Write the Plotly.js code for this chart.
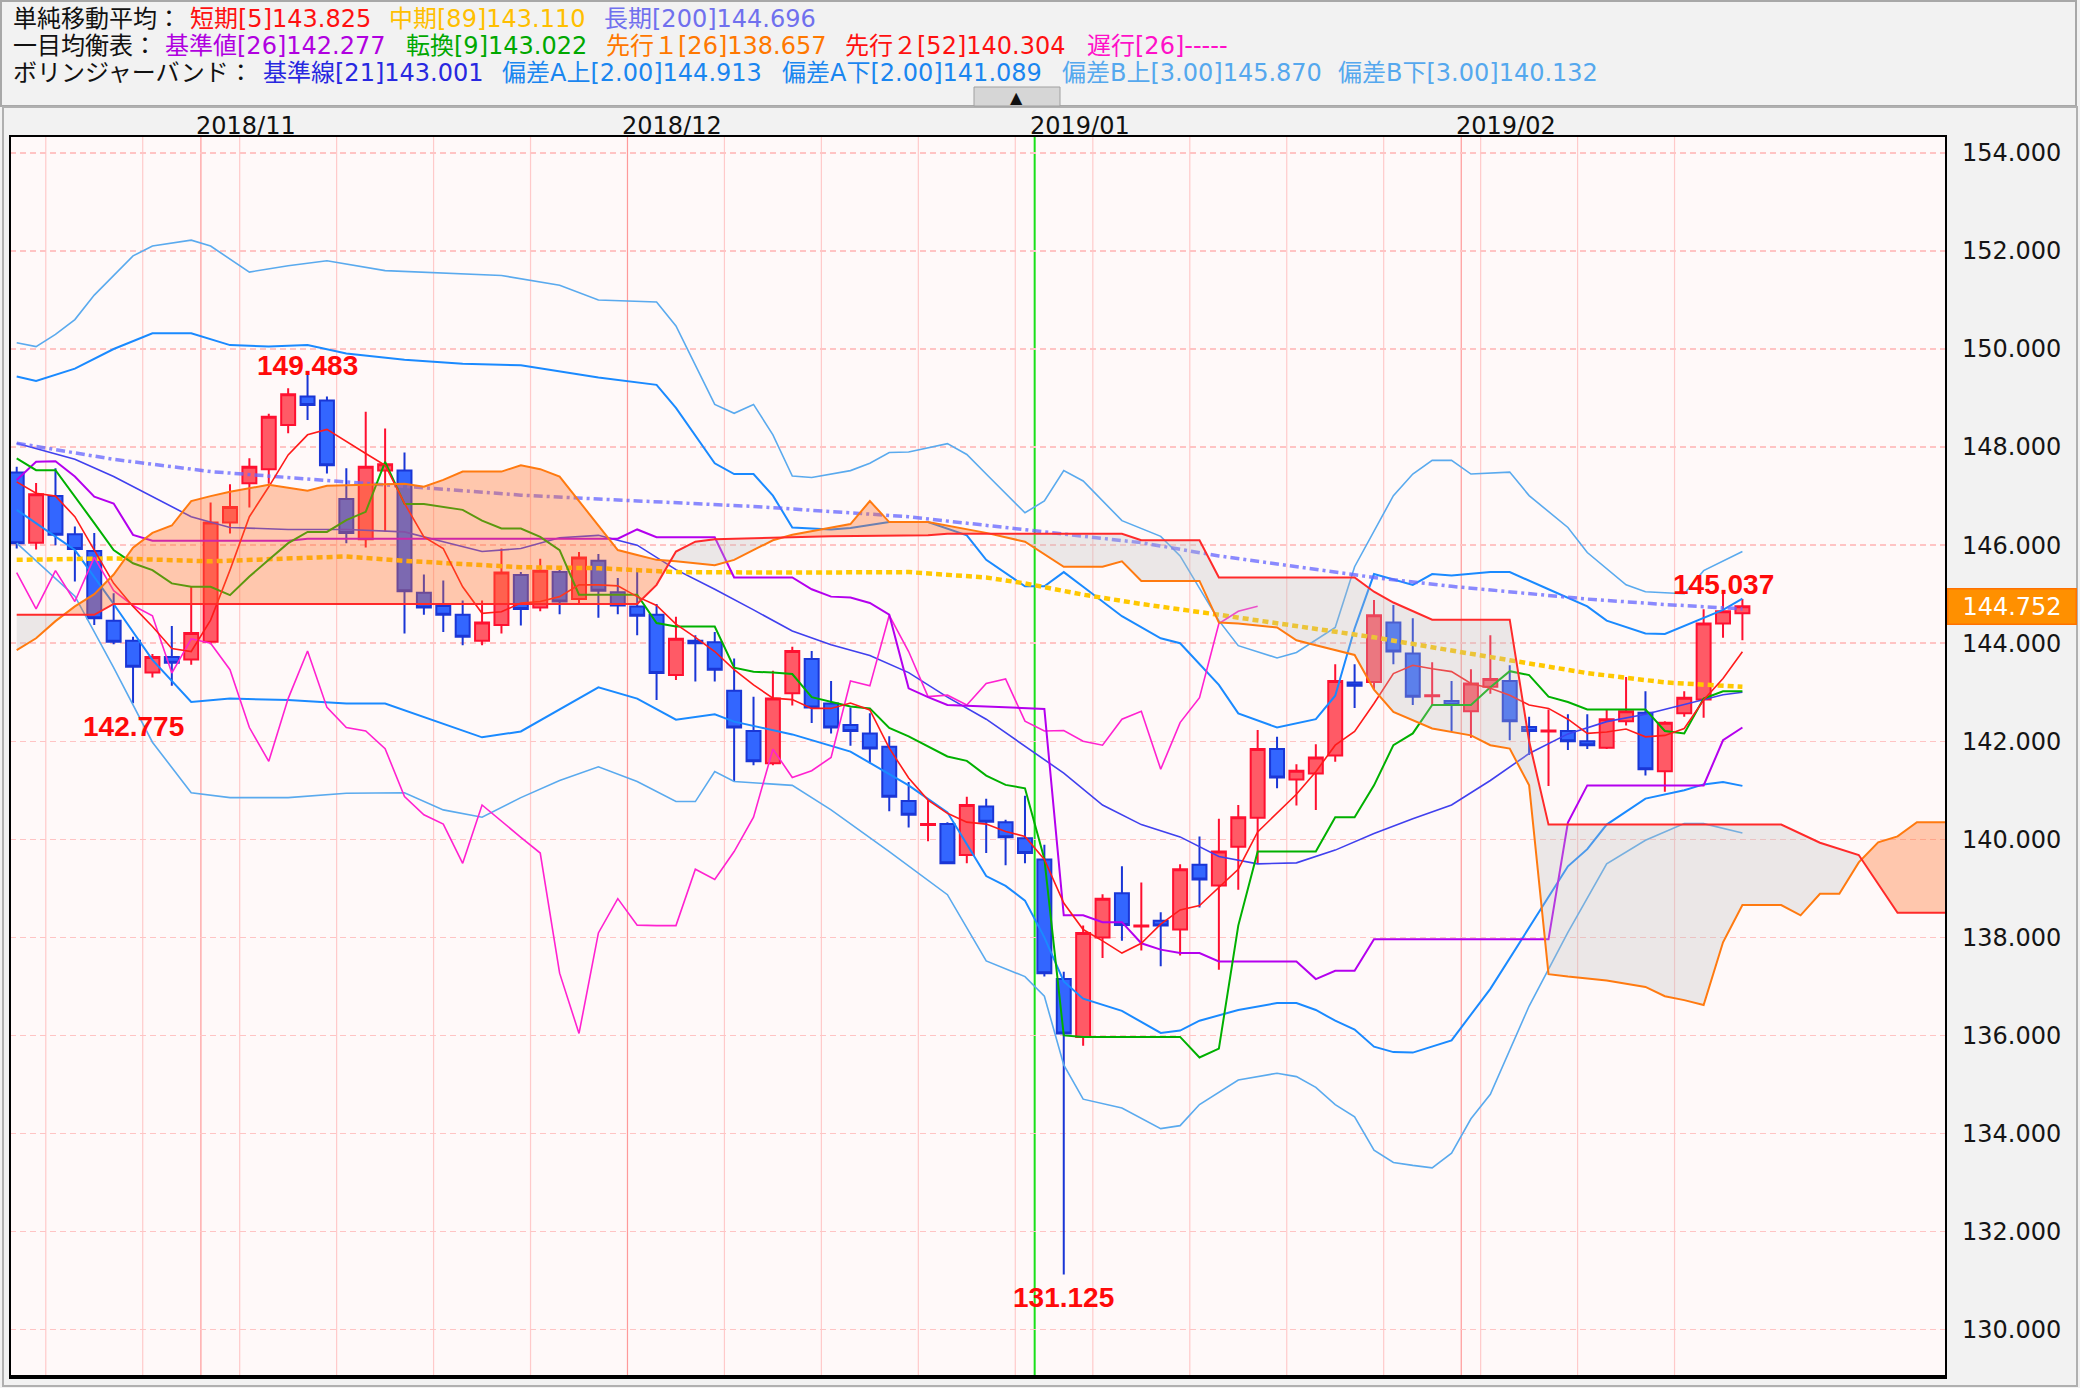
<!DOCTYPE html>
<html><head><meta charset="utf-8">
<script src="https://cdn.plot.ly/plotly-3.0.1.min.js"></script>
<style>html,body{margin:0;padding:0;background:#f2f2f2;overflow:hidden}#chart{width:2080px;height:1388px}</style>
</head><body><div id="chart"></div>
<script>
// ---------------- DATA ----------------
const dates = ['2018-10-18','2018-10-19','2018-10-22','2018-10-23','2018-10-24','2018-10-25','2018-10-26','2018-10-29','2018-10-30','2018-10-31',
'2018-11-01','2018-11-02','2018-11-05','2018-11-06','2018-11-07','2018-11-08','2018-11-09','2018-11-12','2018-11-13','2018-11-14',
'2018-11-15','2018-11-16','2018-11-19','2018-11-20','2018-11-21','2018-11-22','2018-11-23','2018-11-26','2018-11-27','2018-11-28',
'2018-11-29','2018-11-30','2018-12-03','2018-12-04','2018-12-05','2018-12-06','2018-12-07','2018-12-10','2018-12-11','2018-12-12',
'2018-12-13','2018-12-14','2018-12-17','2018-12-18','2018-12-19','2018-12-20','2018-12-21','2018-12-24','2018-12-25','2018-12-26',
'2018-12-27','2018-12-28','2018-12-31','2019-01-02','2019-01-03','2019-01-04','2019-01-07','2019-01-08','2019-01-09','2019-01-10',
'2019-01-11','2019-01-14','2019-01-15','2019-01-16','2019-01-17','2019-01-18','2019-01-21','2019-01-22','2019-01-23','2019-01-24',
'2019-01-25','2019-01-28','2019-01-29','2019-01-30','2019-01-31','2019-02-01','2019-02-04','2019-02-05','2019-02-06','2019-02-07',
'2019-02-08','2019-02-11','2019-02-12','2019-02-13','2019-02-14','2019-02-15','2019-02-18','2019-02-19','2019-02-20','2019-02-21'];

const open = [147.48,146.05,147.00,146.22,145.88,144.46,144.05,143.40,143.72,143.67,
144.03,146.46,147.26,147.55,148.45,149.03,148.95,146.94,146.12,147.52,
147.52,145.03,144.76,144.58,144.05,144.37,145.39,144.73,145.45,144.90,
145.68,145.04,144.75,144.58,143.35,144.05,144.02,143.03,142.21,141.55,
142.98,143.68,142.77,142.33,142.16,141.89,140.78,140.29,140.31,139.68,
140.67,140.35,140.02,139.59,137.15,135.97,138.00,138.90,138.22,138.34,
138.16,139.48,139.06,139.85,140.44,141.84,141.22,141.34,141.71,143.20,
143.21,144.42,143.79,142.92,142.82,142.61,143.11,143.23,142.29,142.20,
142.21,142.00,141.87,142.41,142.58,141.39,142.57,142.85,144.40,144.61];
const high = [147.60,147.27,147.57,146.38,146.25,145.02,144.13,143.78,144.35,145.15,
146.87,147.24,147.77,148.68,149.20,149.483,149.03,147.57,148.72,148.38,
147.89,145.40,145.28,144.87,144.87,145.93,145.45,145.72,145.55,145.86,
145.82,145.33,145.53,144.80,144.54,144.16,144.23,143.69,142.91,143.44,
143.93,143.84,143.23,142.69,142.57,142.10,141.17,140.83,140.35,140.87,
140.83,140.40,140.89,139.89,137.30,138.24,138.88,139.45,139.12,138.51,
139.49,140.06,140.42,140.70,142.23,142.09,141.53,141.94,143.57,143.57,
144.88,144.78,144.51,143.61,143.23,143.47,144.16,143.55,142.50,142.65,
142.55,142.55,142.64,143.31,143.02,142.41,143.02,144.69,145.037,144.90];
const low = [145.93,145.91,146.00,145.26,144.37,143.98,142.775,143.30,143.13,143.56,
143.98,146.24,146.77,147.25,148.28,148.55,147.46,146.04,145.95,146.28,
144.20,144.58,144.23,143.96,143.96,144.20,144.36,144.65,144.59,144.82,
144.52,144.59,144.16,142.84,143.25,143.22,143.22,141.18,141.51,141.51,
142.73,142.37,142.16,141.91,141.55,140.57,140.24,139.96,139.49,139.51,
139.72,139.47,139.51,137.20,131.125,135.79,137.58,137.93,137.73,137.41,
137.63,138.61,137.34,138.97,139.51,141.04,140.69,140.60,141.58,142.68,
143.06,143.57,142.74,142.74,142.21,142.07,142.97,142.02,141.72,141.09,
141.82,141.84,141.84,142.32,141.30,140.97,142.50,142.48,144.11,144.06];
const close = [146.04,147.04,146.21,145.92,144.51,144.03,143.52,143.72,143.60,144.21,
146.46,146.78,147.60,148.62,149.08,148.86,147.63,146.25,147.60,147.65,
145.06,144.73,144.58,144.13,144.42,145.44,144.70,145.48,144.85,145.75,
145.07,144.77,144.56,143.39,144.09,144.00,143.46,142.28,141.59,142.87,
143.84,142.69,142.28,142.21,141.85,140.87,140.50,140.31,139.51,140.70,
140.36,140.04,139.72,137.27,136.04,138.09,138.79,138.25,138.24,138.24,
139.39,139.18,139.75,140.45,141.84,141.26,141.40,141.67,143.23,143.13,
144.57,143.83,142.91,142.94,142.74,143.18,143.27,142.41,142.21,142.22,
142.00,141.92,142.45,142.61,141.43,142.38,142.89,144.40,144.65,144.752];

// 短期 SMA5 (one value per bar)
const sma5 = [147.29,147.06,147.00,146.58,145.90,145.22,144.75,144.34,143.89,143.83,
144.47,145.49,146.58,147.19,147.84,148.25,148.36,148.11,147.87,147.63,
146.85,146.17,145.93,145.15,144.61,144.64,144.82,144.85,144.95,145.19,
145.19,145.17,144.95,144.77,144.39,144.12,143.83,143.46,143.15,142.88,
142.85,142.67,142.67,142.78,142.64,141.86,141.25,140.80,140.53,140.35,
140.31,140.16,140.06,139.59,138.70,138.16,137.93,137.68,137.88,138.27,
138.56,138.65,139.01,139.39,140.15,140.53,140.92,141.38,141.92,142.20,
142.77,143.38,143.55,143.48,143.42,143.18,143.08,142.94,142.74,142.67,
142.45,142.16,142.19,142.25,142.09,142.12,142.26,142.84,143.28,143.825];

// 中期 SMA89 (sampled)
const sma89Idx = [0,5,10,15,17,20,26,30,34,40,46,50,52,55,58,62,66,70,74,77,81,85,89];
const sma89Val = [145.70,145.73,145.67,145.75,145.77,145.68,145.55,145.53,145.45,145.44,145.45,145.34,145.22,144.99,144.80,144.58,144.36,144.12,143.85,143.66,143.39,143.20,143.11];
// 長期 SMA200 (sampled)
const sma200Idx = [0,5,10,17,26,30,38,46,52,58,62,66,70,74,77,81,85,89];
const sma200Val = [148.08,147.75,147.50,147.29,147.02,146.94,146.79,146.58,146.32,146.05,145.78,145.56,145.34,145.16,145.05,144.90,144.79,144.70];

// 一目均衡表
const tenkanIdx = [0,1,2,3,4,5,6,7,8,9,10,11,12,13,14,15,16,17,18,19,20,21,22,23,24,25,26,27,28,29,32,33,34,36,37,38,39,40,41,42,43,44,45,46,47,48,49,50,51,52,53,54,55,60,61,62,63,64,67,68,69,70,71,72,73,75,76,77,78,79,80,81,84,85,86,87,88,89];
const tenkanVal = [147.77,147.53,147.53,147.00,146.45,145.90,145.63,145.49,145.22,145.15,
145.15,144.98,145.36,145.70,146.04,146.27,146.27,146.51,146.68,147.70,
146.84,146.84,146.78,146.72,146.50,146.34,146.34,146.17,145.90,144.99,
144.99,144.41,144.34,144.34,143.50,143.42,143.40,143.37,142.90,142.80,
142.71,142.67,142.27,142.10,141.90,141.69,141.60,141.30,141.11,141.04,
139.60,136.00,135.97,135.97,135.55,135.73,138.24,139.75,139.75,140.45,
140.45,141.10,141.92,142.16,142.74,142.74,143.10,143.43,143.35,142.91,
142.80,142.65,142.65,142.21,142.16,142.87,143.02,143.02];
const kijunIdx = [0,1,2,3,4,5,6,7,14,15,31,32,33,36,37,40,41,42,43,44,45,46,47,48,53,54,55,56,57,58,59,60,61,62,66,67,68,69,70,79,80,81,87,88,89];
const kijunVal = [147.33,147.70,147.71,147.40,146.99,146.85,146.21,146.09,146.09,146.13,
146.13,146.32,146.16,146.16,145.34,145.34,145.10,144.95,144.93,144.82,
144.58,143.08,142.90,142.74,142.66,138.45,138.45,138.31,138.31,137.88,
137.75,137.68,137.68,137.51,137.51,137.15,137.32,137.32,137.96,137.96,
140.34,141.10,141.10,142.02,142.28];
const span1Idx = [0,1,2,3,4,5,6,7,8,9,10,11,13,15,16,18,20,21,22,23,25,26,27,28,29,30,31,32,33,34,36,37,38,39,40,42,43,44,45,47,50,52,54,56,57,58,61,62,63,65,66,67,69,70,71,73,75,76,77,78,79,80,82,84,85,86,87,88,89,91,92,93,94,95,96,97,98,100];
const span1Val = [143.86,144.10,144.45,144.75,145.00,145.40,145.95,146.25,146.40,146.90,
147.00,147.09,147.23,147.11,147.21,147.23,147.25,147.19,147.33,147.50,
147.50,147.63,147.55,147.40,146.90,146.40,145.90,145.80,145.70,145.67,
145.59,145.70,145.90,146.10,146.21,146.36,146.43,146.90,146.47,146.47,
146.25,146.07,145.56,145.56,145.67,145.27,145.27,144.42,144.40,144.32,
144.06,143.96,143.76,143.05,142.60,142.26,142.12,141.92,141.85,141.10,
137.25,137.20,137.12,136.99,136.80,136.72,136.62,137.90,138.66,138.66,
138.45,138.89,138.89,139.53,139.94,140.06,140.35,140.35];
const span2Idx = [0,4,5,32,33,34,35,36,42,47,48,57,58,61,62,69,70,71,73,77,78,79,91,93,95,97,100];
const span2Val = [144.58,144.58,144.80,144.80,145.19,145.87,146.07,146.12,146.18,146.20,146.23,146.23,146.10,146.10,145.34,145.34,145.05,144.83,144.48,144.48,142.00,140.30,140.30,139.93,139.68,138.50,138.50];

// ボリンジャーバンド
const bbMidIdx = [0,3,5,7,9,11,14,17,20,22,24,26,28,30,32,34,36,38,40,42,44,46,48,50,52,54,56,58,60,62,64,66,68,70,72,74,76,78,80,82,84,86,88,89];
const bbMidVal = [148.08,147.75,147.40,146.99,146.58,146.36,146.32,146.32,146.27,146.07,
145.87,145.93,146.15,146.20,146.00,145.50,145.10,144.68,144.25,143.97,
143.75,143.40,142.90,142.45,141.90,141.35,140.70,140.30,140.05,139.65,
139.50,139.52,139.78,140.12,140.42,140.70,141.20,141.75,142.15,142.40,
142.55,142.75,142.95,143.00];
const bbUp2Idx = [0,1,3,5,7,9,11,13,15,17,20,23,26,28,30,33,34,36,37,38,39,40,42,43,45,47,49,50,52,53,54,55,57,59,60,62,63,65,67,68,69,70,72,73,74,76,77,79,81,82,84,85,86,88,89];
const bbUp2Val = [149.44,149.35,149.60,150.00,150.32,150.32,150.08,150.05,150.08,149.91,
149.78,149.70,149.67,149.55,149.42,149.27,148.80,147.67,147.45,147.45,
147.01,146.36,146.32,146.35,146.47,146.47,146.20,145.70,145.16,145.16,
145.45,145.15,144.55,144.10,144.00,143.15,142.57,142.28,142.45,142.93,
144.30,145.41,145.19,145.41,145.38,145.45,145.45,145.10,144.75,144.46,
144.20,144.19,144.35,144.68,144.91];
const bbUp3Idx = [0,1,2,3,4,5,6,7,9,10,12,14,16,19,22,25,28,30,33,34,36,37,38,39,40,41,43,44,45,46,48,49,50,52,53,54,55,57,59,60,62,63,65,66,68,69,71,72,73,74,75,77,78,80,81,83,84,86,87,89];
const bbUp3Val = [150.13,150.05,150.30,150.60,151.10,151.50,151.90,152.10,152.22,152.10,
151.57,151.70,151.80,151.60,151.55,151.50,151.30,151.00,150.96,150.47,
148.87,148.69,148.87,148.25,147.41,147.38,147.52,147.67,147.89,147.90,
148.07,147.85,147.45,146.66,146.90,147.52,147.31,146.50,146.18,145.78,
144.46,143.95,143.70,143.81,144.32,145.56,147.01,147.45,147.73,147.73,
147.45,147.49,147.01,146.36,145.85,145.19,145.05,145.01,145.48,145.87];
const bbLo2Idx = [0,3,5,7,9,11,14,17,19,21,24,26,28,30,32,34,36,37,40,43,46,48,50,51,52,53,54,55,57,59,60,61,63,65,66,67,68,69,70,71,72,74,76,78,80,81,82,84,86,87,88,89];
const bbLo2Val = [146.72,145.90,144.80,143.66,142.80,142.87,142.84,142.77,142.77,142.50,
142.08,142.20,142.65,143.10,142.87,142.44,142.55,142.40,142.14,141.79,
141.10,140.55,139.25,139.05,138.75,138.00,137.10,136.75,136.50,136.05,
136.10,136.30,136.52,136.66,136.66,136.52,136.30,136.12,135.77,135.66,
135.65,135.90,136.95,138.20,139.45,139.80,140.30,140.83,141.00,141.12,
141.17,141.09];
const bbLo3Idx = [0,3,5,7,9,11,14,17,20,22,24,26,28,30,32,34,35,36,37,40,42,45,48,50,52,53,54,55,57,59,60,61,63,65,66,67,68,69,70,71,72,73,74,75,76,78,80,82,84,86,87,89];
const bbLo3Val = [146.04,144.96,143.50,141.98,140.95,140.85,140.85,140.94,140.95,140.60,
140.45,140.85,141.20,141.48,141.18,140.77,140.77,141.38,141.18,141.10,
140.60,139.75,138.87,137.52,137.20,136.80,135.40,134.70,134.52,134.10,
134.16,134.59,135.09,135.23,135.16,134.94,134.59,134.34,133.66,133.41,
133.35,133.30,133.60,134.30,134.80,136.60,138.10,139.50,139.98,140.32,
140.32,140.13];

const lagShift = 26;          // 遅行スパン period (drawn 25 bars back incl. current bar)
const yTickLabelsStep = 2;

const headerText = [
 ['単純移動平均：','短期[5]143.825','中期[89]143.110','長期[200]144.696'],
 ['一目均衡表：','基準値[26]142.277','転換[9]143.022','先行１[26]138.657','先行２[52]140.304','遅行[26]-----'],
 ['ボリンジャーバンド：','基準線[21]143.001','偏差A上[2.00]144.913','偏差A下[2.00]141.089','偏差B上[3.00]145.870','偏差B下[3.00]140.132']
];
const extremeLabels = [ {i:15, v:'149.483', kind:'high'}, {i:6, v:'142.775', kind:'low'}, {i:54, v:'131.125', kind:'low'}, {i:88, v:'145.037', kind:'high'} ];
const currentPrice = 144.752;

// ---------------- LAYOUT HELPERS ----------------
const W=2080,H=1388,ML=10,MR=134,MT=136,MB=10;
const PW=W-ML-MR, PH=H-MT-MB;
const px = x => (x-ML)/PW;
const py = y => (H-MB-y)/PH;

const headerColors = [
 ['#111111','#ff1010','#ffbf00','#7070ee'],
 ['#111111','#b000e0','#00a800','#ff7800','#ff1010','#ff10c8'],
 ['#111111','#2828e0','#1a86f0','#1a86f0','#55a8ee','#55a8ee']
];
const headerX = [[12,189,388,603],[12,164,405,605,844,1086],[12,262,501,781,1061,1337]];
const headerY = [19,46,73];
const labelShift = {15:9, 6:-23, 54:-23, 88:8};

const idx = dates.map((d,i)=>i);
const traces = [];

traces.push({type:'candlestick', x:idx, open:open, high:high, low:low, close:close,
  increasing:{line:{color:'#ff1030',width:2}, fillcolor:'#ff5a66'},
  decreasing:{line:{color:'#1a36d6',width:2}, fillcolor:'#3366ff'},
  whiskerwidth:0, hoverinfo:'skip', showlegend:false});

function line(x,y,color,width,dash){
  return {type:'scatter',mode:'lines',x:x,y:y,line:{color:color,width:width,dash:dash||'solid'},hoverinfo:'skip',showlegend:false};
}
traces.push(line(bbUp3Idx,bbUp3Val,'#5aaaee',1.6));
traces.push(line(bbLo3Idx,bbLo3Val,'#5aaaee',1.6));
traces.push(line(bbUp2Idx,bbUp2Val,'#1a8aff',2));
traces.push(line(bbLo2Idx,bbLo2Val,'#1a8aff',2));
traces.push(line(bbMidIdx,bbMidVal,'#4040ee',1.6));
traces.push(line(sma200Idx,sma200Val,'rgba(105,105,255,0.78)',3.5,'9px,4px,3px,4px'));
traces.push(line(sma89Idx,sma89Val,'#ffc800',4.5,'6px,4px'));
// 遅行スパン: closes drawn back in time
const lagX=[], lagY=[];
for(let i=lagShift-1;i<close.length;i++){ lagX.push(i-(lagShift-1)); lagY.push(close[i]); }
traces.push(line(lagX,lagY,'#ff22d0',1.6));
traces.push(line(kijunIdx,kijunVal,'#b400ee',2));
traces.push(line(tenkanIdx,tenkanVal,'#00b000',2));
traces.push(line(idx,sma5,'#ff1a1a',1.6));

// ---- cloud polygons between the two leading span lines ----
function at(xs,ys,x){
  if(x<=xs[0]) return ys[0];
  for(let k=0;k<xs.length-1;k++){ if(x<=xs[k+1]){ const t=(x-xs[k])/(xs[k+1]-xs[k]); return ys[k]+t*(ys[k+1]-ys[k]); } }
  return ys[ys.length-1];
}
const lo=Math.max(span1Idx[0],span2Idx[0]), hi=Math.min(span1Idx[span1Idx.length-1],span2Idx[span2Idx.length-1]);
const gx=Array.from(new Set(span1Idx.concat(span2Idx))).filter(x=>x>=lo&&x<=hi).sort((a,b)=>a-b);
const pts=[];
gx.forEach((x,k)=>{
  const a=at(span1Idx,span1Val,x), b=at(span2Idx,span2Val,x);
  if(k>0){ const p=pts[pts.length-1]; const d0=p.a-p.b, d1=a-b;
    if(d0*d1<0){ const t=d0/(d0-d1); const xc=p.x+t*(x-p.x); const yc=p.a+t*(a-p.a); pts.push({x:xc,a:yc,b:yc,s:0}); } }
  pts.push({x:x,a:a,b:b,s:Math.sign(a-b)});
});
const runs=[]; let cur={s:0,p:[]};
pts.forEach(p=>{
  if(p.s===0){ cur.p.push(p); if(cur.p.length>1&&cur.s!==0) runs.push(cur); cur={s:0,p:[p]}; return; }
  if(cur.s===0) cur.s=p.s;
  if(p.s!==cur.s){ runs.push(cur); const last=cur.p[cur.p.length-1]; cur={s:p.s,p:[last,p]}; }
  else cur.p.push(p);
});
if(cur.p.length>1&&cur.s!==0) runs.push(cur);
runs.forEach(r=>{
  const xs=r.p.map(q=>q.x), as=r.p.map(q=>q.a), bs=r.p.map(q=>q.b);
  traces.push({type:'scatter',mode:'lines',x:xs.concat(xs.slice().reverse()),y:as.concat(bs.slice().reverse()),
    fill:'toself',fillcolor:r.s>0?'rgba(255,110,40,0.36)':'rgba(190,190,190,0.30)',
    line:{width:0,color:'rgba(0,0,0,0)'},hoverinfo:'skip',showlegend:false});
});
traces.push(line(span1Idx,span1Val,'#ff7a10',2));
traces.push(line(span2Idx,span2Val,'#ff2a2a',2));

// ---------------- SHAPES ----------------
const shapes=[];
const monthLabels=[];
for(let i=1;i<dates.length;i++){
  const d0=new Date(dates[i-1]+'T00:00:00Z'), d1=new Date(dates[i]+'T00:00:00Z');
  const newMonth=d0.getUTCMonth()!==d1.getUTCMonth();
  const newYear=d0.getUTCFullYear()!==d1.getUTCFullYear();
  const newWeek=d1.getUTCDay()<d0.getUTCDay();
  if(newMonth||newWeek){
    shapes.push({type:'line',xref:'x',yref:'paper',x0:i-0.5,x1:i-0.5,y0:0,y1:1,layer:newYear?'between':'below',
      line:{color:newYear?'#19e019':(newMonth?'#ff9a9a':'#ffcaca'),width:newYear?2:1.2}});
  }
  if(newMonth){
    monthLabels.push({x:i-0.5,text:d1.getUTCFullYear()+'/'+String(d1.getUTCMonth()+1).padStart(2,'0')});
  }
}
// plot frame
shapes.push({type:'rect',xref:'paper',yref:'paper',x0:0,x1:1,y0:0,y1:1,line:{color:'#000',width:2},layer:'above'});
shapes.push({type:'line',xref:'paper',yref:'paper',x0:0,x1:1,y0:py(1377),y1:py(1377),line:{color:'#000',width:4},layer:'above'});
// header box and outer panel border
shapes.push({type:'rect',xref:'paper',yref:'paper',x0:px(1),x1:px(2076),y0:py(1),y1:py(106),line:{color:'#a8a8a8',width:2}});
shapes.push({type:'rect',xref:'paper',yref:'paper',x0:px(3),x1:px(2077),y0:py(107),y1:py(1386),line:{color:'#b0b0b0',width:2}});
// collapse button
shapes.push({type:'rect',xref:'paper',yref:'paper',x0:px(974),x1:px(1060),y0:py(87),y1:py(106),fillcolor:'#d6d6d6',line:{color:'#a0a0a0',width:1}});

// ---------------- ANNOTATIONS ----------------
const ann=[];
headerText.forEach((row,r)=>row.forEach((t,c)=>{
  ann.push({xref:'paper',yref:'paper',x:px(headerX[r][c]),y:py(headerY[r]),xanchor:'left',yanchor:'middle',showarrow:false,
    text:t,font:{family:'DejaVu Sans, Noto Sans CJK JP',size:24,color:headerColors[r][c]},borderpad:0});
}));
ann.push({xref:'paper',yref:'paper',x:px(1017),y:py(97),xanchor:'center',yanchor:'middle',showarrow:false,text:'▲',font:{family:'DejaVu Sans',size:16,color:'#111'}});
monthLabels.forEach(m=>{
  ann.push({xref:'x',yref:'paper',x:m.x,y:py(126),xanchor:'left',yanchor:'middle',xshift:-6,showarrow:false,text:m.text,
    font:{family:'DejaVu Sans',size:24,color:'#111'},borderpad:0});
});
extremeLabels.forEach(e=>{
  ann.push({xref:'x',yref:'y',x:e.i,y:parseFloat(e.v),xanchor:'center',yanchor:'middle',yshift:labelShift[e.i],showarrow:false,
    text:'<b>'+e.v+'</b>',font:{family:'Liberation Sans, Arial, sans-serif',size:28,color:'#ff0a0a'}});
});
ann.push({xref:'paper',yref:'y',x:1,y:currentPrice,xanchor:'left',yanchor:'middle',xshift:1,showarrow:false,
  text:currentPrice.toFixed(3),width:125,height:32,bgcolor:'#ff9000',bordercolor:'#ff7200',borderwidth:1.5,
  font:{family:'DejaVu Sans',size:24,color:'#ffffff'}});

const layout={
  width:W,height:H,margin:{l:ML,r:MR,t:MT,b:MB,pad:0},
  paper_bgcolor:'#f2f2f2',plot_bgcolor:'#fff9f9',
  showlegend:false,boxgap:0.28,boxgroupgap:0,
  xaxis:{range:[-0.3455,99.5],showgrid:false,zeroline:false,showticklabels:false,ticks:'',rangeslider:{visible:false},fixedrange:true},
  yaxis:{side:'right',range:[129.013,154.345],tick0:0,dtick:yTickLabelsStep,tickformat:'.3f',showgrid:true,
    gridcolor:'#ffc4c4',griddash:'6px,4px',gridwidth:1.5,zeroline:false,ticks:'',ticklabelstandoff:15,
    tickfont:{family:'DejaVu Sans',size:24,color:'#151515'},fixedrange:true},
  shapes:shapes,annotations:ann
};
Plotly.newPlot('chart',traces,layout,{staticPlot:true,displayModeBar:false});
</script></body></html>
